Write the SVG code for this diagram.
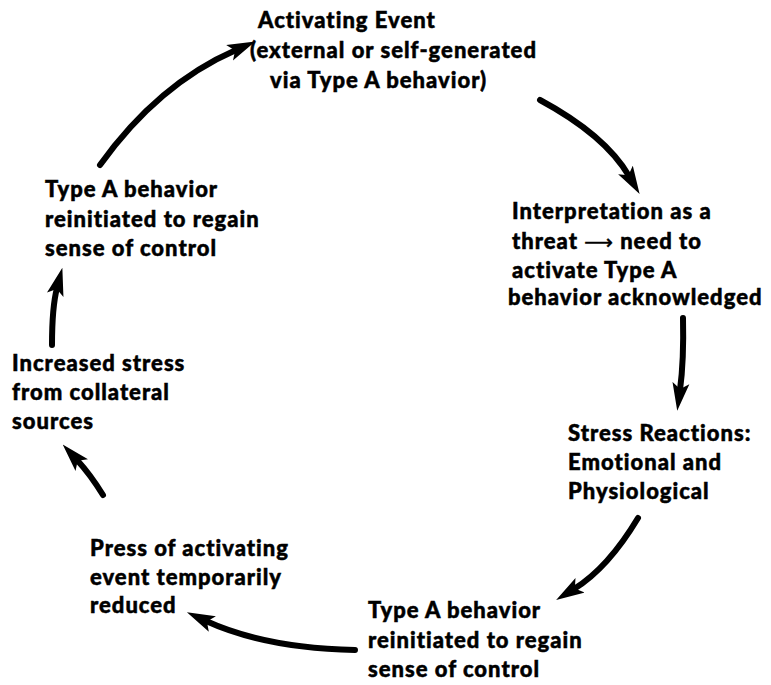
<svg xmlns="http://www.w3.org/2000/svg" width="771" height="685" viewBox="0 0 771 685">
<style>
text{font-family:Lato,"Open Sans","Liberation Sans",sans-serif;font-weight:900;font-size:22px;fill:#000;stroke:#000;stroke-width:0.5px;letter-spacing:1px}
.c{fill:none;stroke:#000;stroke-width:6;stroke-linecap:round}
</style>
<defs>
<marker id="ah" markerUnits="userSpaceOnUse" viewBox="0 -9 28 18" refX="7" refY="0" markerWidth="28" markerHeight="18" orient="auto">
<path d="M0,-8.5 L28,0 L0,8.5 L6,0 Z" fill="#000"/>
</marker>
</defs>
<rect width="771" height="685" fill="#fff"/>
<g id="connectors">
<path class="c" d="M100,165 Q158,84 236,50" marker-end="url(#ah)"/>
<path class="c" d="M540,100 Q605,135 629,176" marker-end="url(#ah)"/>
<path class="c" d="M683,318 Q684,360 680,390" marker-end="url(#ah)"/>
<path class="c" d="M638,518 Q608,568 574,589" marker-end="url(#ah)"/>
<path class="c" d="M355,650 Q265,648 206,621" marker-end="url(#ah)"/>
<path class="c" d="M103,495 Q90,474 77,460" marker-end="url(#ah)"/>
<path class="c" d="M52,345 Q52,307 57,288" marker-end="url(#ah)"/>
</g>
<g id="activating-event">
<text x="258" y="28">Activating Event</text>
<text x="250" y="58">(external or self-generated</text>
<text x="270" y="88">via Type A behavior)</text>
</g>
<g id="interpretation">
<text x="512" y="219">Interpretation as a</text>
<text x="512" y="249">threat <tspan font-family="DejaVu Sans" font-weight="400" font-size="20">⟶</tspan> need to</text>
<text x="512" y="278">activate Type A</text>
<text x="508" y="305">behavior acknowledged</text>
</g>
<g id="stress-reactions">
<text x="568" y="441">Stress Reactions:</text>
<text x="568" y="470">Emotional and</text>
<text x="568" y="499">Physiological</text>
</g>
<g id="type-a-bottom">
<text x="368" y="618">Type A behavior</text>
<text x="368" y="648">reinitiated to regain</text>
<text x="368" y="677">sense of control</text>
</g>
<g id="press-reduced">
<text x="90" y="556">Press of activating</text>
<text x="90" y="585">event temporarily</text>
<text x="90" y="613">reduced</text>
</g>
<g id="increased-stress">
<text x="12" y="371">Increased stress</text>
<text x="12" y="400">from collateral</text>
<text x="12" y="429">sources</text>
</g>
<g id="type-a-left">
<text x="45" y="197">Type A behavior</text>
<text x="45" y="227">reinitiated to regain</text>
<text x="45" y="256">sense of control</text>
</g>
</svg>
